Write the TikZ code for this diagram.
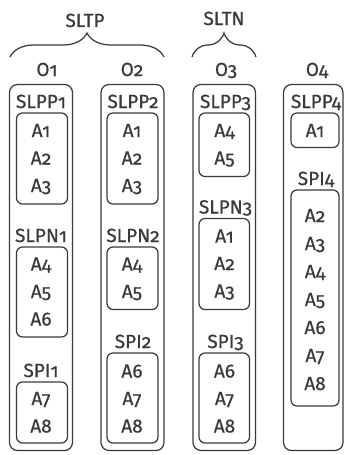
\documentclass[tikz,border=0pt]{standalone}
\usepackage{fontspec}
\setmainfont{Fira Sans}[Numbers=OldStyle,FakeBold=0.6]
\usetikzlibrary{decorations.pathreplacing}
\definecolor{ink}{HTML}{3A3A3A}

\begin{document}
\begin{tikzpicture}[x=1pt,y=-1pt,
  outerbox/.style={draw=ink,line width=1.25pt,rounded corners=8pt},
  innerbox/.style={draw=ink,line width=1.25pt,rounded corners=6pt},
  lbl/.style={anchor=base,inner sep=0pt,text=ink,font=\fontsize{19}{22}\selectfont},
  grp/.style={draw=ink,line width=1.25pt,decorate,decoration={brace,amplitude=24pt}}]
\useasboundingbox (0,0) rectangle (344,455);
\coordinate (sltpL) at (10,57); \coordinate (sltpR) at (164,57);
\coordinate (sltnL) at (192,57); \coordinate (sltnR) at (256,57);
\draw[grp] (sltpL)--(sltpR);
\draw[grp] (sltnL)--(sltnR);
\node[lbl] (sltp) at (85,27) {SLTP};
\node[lbl] (sltn) at (224,25) {SLTN};
\node[lbl] (o1) at (47,76) {O1};
\node[lbl] (o2) at (132,76) {O2};
\node[lbl] (o3) at (226,76) {O3};
\node[lbl] (o4) at (317,76) {O4};
\draw[outerbox] (9.5,84.5) rectangle (72.5,450.5);
\draw[outerbox] (101,84.5) rectangle (164,450.5);
\draw[outerbox] (193,84.5) rectangle (255.5,450.5);
\draw[outerbox] (283.5,84.5) rectangle (343,450.5);
\draw[innerbox] (16.5,113) rectangle (67.5,204);
\draw[innerbox] (16.5,247) rectangle (67.5,337);
\draw[innerbox] (16.5,382) rectangle (67.5,443);
\draw[innerbox] (107,113) rectangle (158,204);
\draw[innerbox] (107,247) rectangle (158,309.5);
\draw[innerbox] (107,353) rectangle (158,443);
\draw[innerbox] (199,113) rectangle (249.5,176.5);
\draw[innerbox] (199,218.5) rectangle (249.5,309.5);
\draw[innerbox] (199,353) rectangle (249.5,443);
\draw[innerbox] (291,113) rectangle (339,147.5);
\draw[innerbox] (291,190) rectangle (339,406);
\node[lbl] (slpp1) at (41,108) {SLPP1};
\node[lbl] (a1-1) at (41,137) {A1};
\node[lbl] (a1-2) at (41,164.5) {A2};
\node[lbl] (a1-3) at (41,192) {A3};
\node[lbl] (slpn1) at (41,242) {SLPN1};
\node[lbl] (a1-4) at (41,270.5) {A4};
\node[lbl] (a1-5) at (41,298) {A5};
\node[lbl] (a1-6) at (41,325.5) {A6};
\node[lbl] (spi1) at (41,377) {SPI1};
\node[lbl] (a1-7) at (41,405) {A7};
\node[lbl] (a1-8) at (41,432.5) {A8};
\node[lbl] (slpp2) at (133,108) {SLPP2};
\node[lbl] (a2-1) at (132,137) {A1};
\node[lbl] (a2-2) at (132,164.5) {A2};
\node[lbl] (a2-3) at (132,192) {A3};
\node[lbl] (slpn2) at (133,242) {SLPN2};
\node[lbl] (a2-4) at (132,270.5) {A4};
\node[lbl] (a2-5) at (132,298) {A5};
\node[lbl] (spi2) at (133,348) {SPI2};
\node[lbl] (a2-6) at (132,377.5) {A6};
\node[lbl] (a2-7) at (132,405) {A7};
\node[lbl] (a2-8) at (132,432.5) {A8};
\node[lbl] (slpp3) at (225.5,108) {SLPP3};
\node[lbl] (a3-4) at (224.5,137) {A4};
\node[lbl] (a3-5) at (224.5,164.5) {A5};
\node[lbl] (slpn3) at (225.5,213.5) {SLPN3};
\node[lbl] (a3-1) at (224.5,242.5) {A1};
\node[lbl] (a3-2) at (224.5,270) {A2};
\node[lbl] (a3-3) at (224.5,297.5) {A3};
\node[lbl] (spi3) at (225.5,348) {SPI3};
\node[lbl] (a3-6) at (224.5,377.5) {A6};
\node[lbl] (a3-7) at (224.5,405) {A7};
\node[lbl] (a3-8) at (224.5,432.5) {A8};
\node[lbl] (slpp4) at (316,108) {SLPP4};
\node[lbl] (a4-1) at (315,137) {A1};
\node[lbl] (spi4) at (316,185) {SPI4};
\node[lbl] (a4-2) at (315,222) {A2};
\node[lbl] (a4-3) at (315,250) {A3};
\node[lbl] (a4-4) at (315,278) {A4};
\node[lbl] (a4-5) at (315,306) {A5};
\node[lbl] (a4-6) at (315,334) {A6};
\node[lbl] (a4-7) at (315,362) {A7};
\node[lbl] (a4-8) at (315,390) {A8};
\end{tikzpicture}
\end{document}
